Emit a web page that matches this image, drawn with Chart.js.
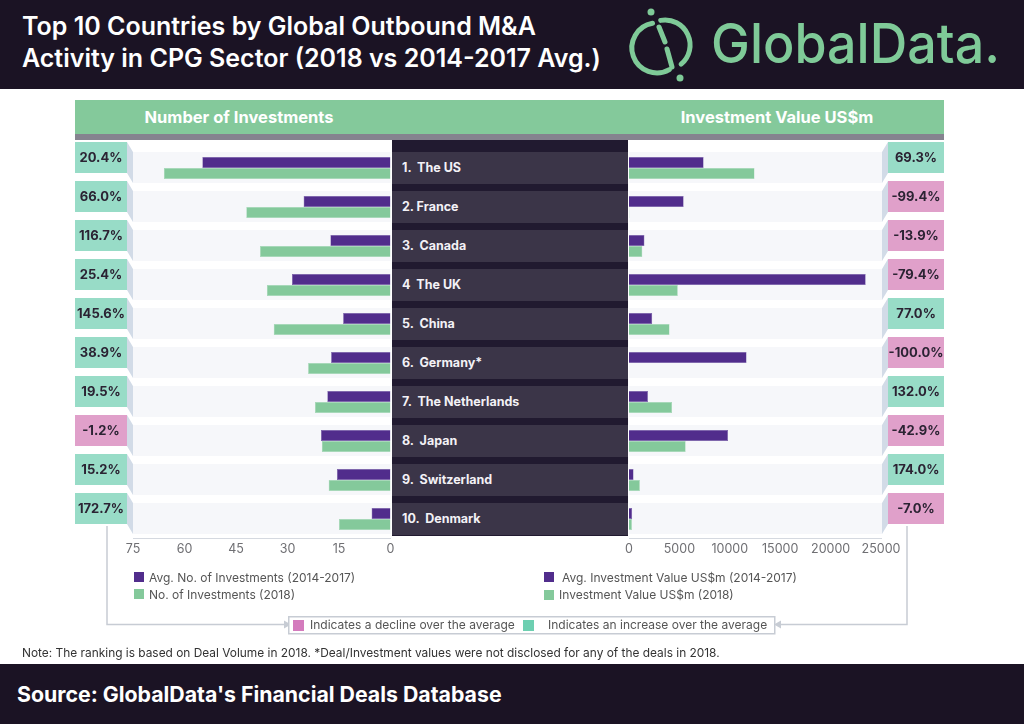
<!DOCTYPE html>
<html>
<head>
<meta charset="utf-8">
<script src="https://cdn.jsdelivr.net/npm/chart.js@4.4.1/dist/chart.umd.min.js"></script>
<style>
  body { margin: 0; width: 1024px; height: 724px; position: relative; overflow: hidden; background: #fff; font-family: Inter, "Noto Sans", sans-serif; }
  .abs { position: absolute; }
  #header { left: 0; top: 0; width: 1024px; height: 89px; background: #1b1324; }
  #title { left: 22px; top: 10px; color: #fff; font-size: 25px; font-weight: 600; line-height: 32px; white-space: nowrap; }
  .band { top: 100px; height: 34px; line-height: 34px; color: #fff; font-size: 16.5px; font-weight: 700; text-align: center; }
  .row { left: 392px; width: 236px; height: 32px; line-height: 32px; background: #3b3548; color: #f3f1f6; font-size: 12.5px; font-weight: 700; white-space: pre; padding-left: 10px; box-sizing: border-box; }
  .sq { width: 10px; height: 10px; }
  .lg { font-size: 12px; color: #555; line-height: 16px; white-space: nowrap; }
  #note { left: 22px; top: 645px; font-size: 11.9px; color: #333; line-height: 16px; white-space: nowrap; }
  #footer { left: 0; top: 664px; width: 1024px; height: 60px; background: #1b1324; color: #fff; font-size: 21.3px; font-weight: 700; line-height: 60px; white-space: nowrap; }
  canvas { position: absolute; }
</style>
</head>
<body>
<div id="header" class="abs"></div>
<div id="title" class="abs">Top 10 Countries by Global Outbound M&amp;A<br>Activity in CPG Sector (2018 vs 2014-2017 Avg.)</div>
<svg class="abs" style="left:0;top:0" width="1024" height="89">
  <g fill="none" stroke="#7fca98" stroke-width="5" stroke-linecap="round">
    <path d="M652.5 23.3 A25 25 0 1 0 669.3 69.6" />
    <path d="M660.7 20.4 A25 25 0 0 1 681.1 64.2" />
    <line x1="659" y1="27" x2="665" y2="42" />
    <line x1="667" y1="49" x2="672" y2="67" />
  </g>
  <circle cx="651" cy="12" r="3.5" fill="#7fca98" />
  <circle cx="680" cy="78" r="3.5" fill="#7fca98" />
  <text x="711" y="63" fill="#7fca98" font-family="Inter, sans-serif" font-weight="500" font-size="55" textLength="289" lengthAdjust="spacingAndGlyphs">GlobalData.</text>
</svg>

<div class="abs" style="left:75px;top:100px;width:869px;height:34px;background:#84c99b"></div>
<div class="abs" style="left:75px;top:134px;width:869px;height:6px;background:#85838f"></div>
<div class="abs band" style="left:75px;width:328px">Number of Investments</div>
<div class="abs band" style="left:610px;width:334px">Investment Value US$m</div>

<div class="abs" style="left:392px;top:140px;width:236px;height:396px;background:#211a30"></div>
<div id="rows"></div>

<canvas id="left" width="370" height="440" style="left:40px;top:130px"></canvas>
<canvas id="right" width="360" height="440" style="left:600px;top:130px"></canvas>

<svg class="abs" style="left:0;top:0" width="1024" height="724">
  <g fill="none" stroke="#c7ccd4" stroke-width="1.5">
    <path d="M107 526 V624.5 H284" />
    <path d="M907 526 V624.5 H781" />
  </g>
  <polygon points="284,620.5 291,624.5 284,628.5" fill="#c7ccd4" />
  <polygon points="781,620.5 774,624.5 781,628.5" fill="#c7ccd4" />
  <rect x="288.75" y="616.75" width="486" height="17" fill="#fff" stroke="#c7ccd4" stroke-width="1.5" />
</svg>
<div id="legends"></div>

<div id="note" class="abs">Note: The ranking is based on Deal Volume in 2018. *Deal/Investment values were not disclosed for any of the deals in 2018.</div>
<div id="footer" class="abs"><span style="padding-left:17px">Source: GlobalData's Financial Deals Database</span></div>

<script>
// ranking by 2018 deal volume
const countries = ['1.  The US', '2. France', '3.  Canada', '4  The UK', '5.  China',
  '6.  Germany*', '7.  The Netherlands', '8.  Japan', '9.  Switzerland', '10.  Denmark'];

const avgInvestments = [54.8, 25.3, 17.5, 28.7, 13.8, 17.3, 18.4, 20.25, 15.6, 5.5];
const investments2018 = [66, 42, 38, 36, 34, 24, 22, 20, 18, 15];
const investmentsChange = ['20.4%', '66.0%', '116.7%', '25.4%', '145.6%', '38.9%', '19.5%', '-1.2%', '15.2%', '172.7%'];

const avgValue = [7400, 5420, 1530, 23480, 2300, 11660, 1880, 9820, 450, 310];
const value2018 = [12450, 35, 1320, 4840, 4020, 0, 4270, 5620, 1080, 290];
const valueChange = ['69.3%', '-99.4%', '-13.9%', '-79.4%', '77.0%', '-100.0%', '132.0%', '-42.9%', '174.0%', '-7.0%'];

const leftTicks = [0, 15, 30, 45, 60, 75];
const rightTicks = [0, 5000, 10000, 15000, 20000, 25000];

const leftSeries = ['Avg. No. of Investments (2014-2017)', 'No. of Investments (2018)'];
const rightSeries = ['Avg. Investment Value US$m (2014-2017)', 'Investment Value US$m (2018)'];
const signLegend = ['Indicates a decline over the average', 'Indicates an increase over the average'];

const PURPLE = '#512d8c';
const GREEN = '#84c99b';
const UP = '#98dcc7';
const DOWN = '#e0a0ca';

function decor(side, changes) {
    return {
        id: 'decor-' + side,
        beforeDatasetsDraw(chart) {
            const { ctx, chartArea: a, scales: { y } } = chart;
            ctx.save();
            ctx.fillStyle = '#f6f7fa';
            countries.forEach((_, i) => {
                const c = y.getPixelForValue(i);
                if (side === 'left') ctx.fillRect(a.left, c - 16, a.right - a.left, 31);
                else ctx.fillRect(a.left, c - 16, a.right - a.left + 1, 31);
            });
            ctx.restore();
        },
        afterDraw(chart) {
            const { ctx, chartArea: a, scales: { y } } = chart;
            ctx.save();
            changes.forEach((txt, i) => {
                const c = y.getPixelForValue(i);
                let fx, bx, bw, edge;
                if (side === 'left') {
                    edge = a.left; fx = a.left - 6; bx = a.left - 58; bw = 52;
                } else {
                    edge = a.right + 1; fx = a.right + 7; bx = a.right + 7; bw = 56;
                }
                // folded side of the badge
                ctx.fillStyle = '#d2dbe7';
                ctx.beginPath();
                ctx.moveTo(fx, c - 26);
                ctx.lineTo(edge, c - 16);
                ctx.lineTo(edge, c + 15);
                ctx.lineTo(fx, c + 5);
                ctx.closePath();
                ctx.fill();
                ctx.fillStyle = txt.startsWith('-') ? DOWN : UP;
                ctx.fillRect(bx, c - 26, bw, 31);
                ctx.fillStyle = '#2b2333';
                ctx.font = '700 13px Inter, sans-serif';
                ctx.textAlign = 'center';
                ctx.textBaseline = 'middle';
                ctx.fillText(txt, bx + bw / 2, c - 10);
            });
            ctx.restore();
        }
    };
}

function makeChart(id, side, series, a, b, ticks, changes, padding) {
    const ctx = document.getElementById(id).getContext('2d');
    return new Chart(ctx, {
        type: 'bar',
        data: {
            labels: countries,
            datasets: [
                { label: series[0], data: a, backgroundColor: PURPLE, borderColor: '#6d53a3', borderWidth: 0.5 },
                { label: series[1], data: b, backgroundColor: GREEN, borderColor: '#9fd6b1', borderWidth: 0.5 }
            ]
        },
        options: {
            indexAxis: 'y',
            responsive: false,
            animation: false,
            categoryPercentage: 0.564,
            barPercentage: 1,
            layout: { padding },
            plugins: { legend: { display: false }, tooltip: { enabled: false } },
            scales: {
                x: {
                    reverse: side === 'left',
                    min: 0,
                    max: ticks[ticks.length - 1],
                    afterBuildTicks: scale => { scale.ticks = ticks.map(v => ({ value: v })); },
                    afterFit: scale => { scale.height = 20; },
                    grid: { display: false, drawTicks: false },
                    border: { display: true, color: '#d5d9e0', width: 1 },
                    ticks: {
                        padding: 3,
                        color: '#6f6f73',
                        font: { family: 'Inter', size: 12.5 },
                        callback: v => String(v)
                    }
                },
                y: { display: false }
            }
        },
        plugins: [decor(side, changes)]
    });
}

const leftChart = makeChart('left', 'left', leftSeries, avgInvestments, investments2018, leftTicks, investmentsChange,
    { left: 93, right: 19.5, top: 18.5, bottom: 11.5 });
const rightChart = makeChart('right', 'right', rightSeries, avgValue, value2018, rightTicks, valueChange,
    { left: 29, right: 79, top: 18.5, bottom: 11.5 });

// country labels in the centre column, aligned with the category scale
const rows = document.getElementById('rows');
countries.forEach((name, i) => {
    const c = 130 + leftChart.scales.y.getPixelForValue(i);
    const d = document.createElement('div');
    d.className = 'abs row';
    d.style.top = (c - 16) + 'px';
    d.textContent = name;
    rows.appendChild(d);
});

// legends
const legends = document.getElementById('legends');
function addLegend(color, text, sx, sy, tx, ty, size) {
    const s = document.createElement('div');
    s.className = 'abs sq';
    s.style.cssText += `left:${sx}px;top:${sy}px;background:${color};width:${size}px;height:${size}px`;
    legends.appendChild(s);
    const t = document.createElement('div');
    t.className = 'abs lg';
    t.style.left = tx + 'px';
    t.style.top = ty + 'px';
    t.textContent = text;
    legends.appendChild(t);
}
addLegend(PURPLE, leftSeries[0], 134, 572, 149, 570, 10);
addLegend(GREEN, leftSeries[1], 134, 589, 149, 587, 10);
addLegend(PURPLE, rightSeries[0], 544, 572, 562, 570, 10);
addLegend(GREEN, rightSeries[1], 544, 590, 559, 587, 10);
addLegend('#d47bbd', signLegend[0], 293, 620, 310, 617, 11);
addLegend('#6dcfb1', signLegend[1], 523, 620, 548, 617, 11);
</script>
</body>
</html>
